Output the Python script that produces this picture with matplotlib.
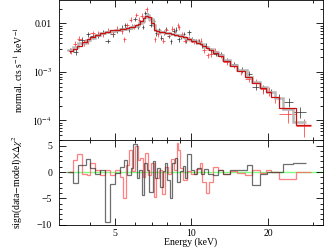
import numpy as np
import matplotlib
matplotlib.use("Agg")
import matplotlib.pyplot as plt
from matplotlib.ticker import FixedLocator, FixedFormatter, LogLocator, NullFormatter, MultipleLocator

plt.rcParams["font.family"] = ["Liberation Serif", "DejaVu Serif"]
plt.rcParams["mathtext.fontset"] = "stix"
plt.rcParams["font.size"] = 7

# dataset 1 (black): bin edges in keV, flux, model, relative error, residual
black_edges = [3.25, 3.41, 3.59, 3.85, 3.99, 4.17, 4.37, 4.58, 4.78, 5.00, 5.23, 5.42, 5.56, 5.76,
               5.91, 6.08, 6.23, 6.37, 6.50, 6.66, 6.82, 7.03, 7.18, 7.34, 7.52, 7.70, 7.87, 8.03,
               8.23, 8.40, 8.61, 8.80, 9.01, 9.23, 9.43, 9.63, 9.93, 10.23, 10.54, 10.87, 11.2,
               11.65, 12.2, 12.75, 13.3, 14.2, 15.1, 16.5, 17.25, 18.6, 19.8, 21.3, 23.0, 25.2, 28.2]
black_flux = [2.8e-3, 2.6e-3, 4.6e-3, 6.0e-3, 5.4e-3, 5.6e-3, 6.5e-3, 4.3e-3, 6.0e-3, 7.3e-3,
              8.2e-3, 9.3e-3, 7.6e-3, 8.8e-3, 1.25e-2, 8.5e-3, 1.05e-2, 8.4e-3, 1.65e-2, 1.50e-2,
              9.5e-3, 1.12e-2, 6.4e-3, 7.3e-3, 5.1e-3, 6.6e-3, 7.6e-3, 5.6e-3, 4.3e-3, 7.1e-3,
              7.5e-3, 4.8e-3, 5.5e-3, 6.0e-3, 4.5e-3, 6.6e-3, 4.8e-3, 4.2e-3, 4.2e-3, 3.6e-3,
              3.5e-3, 2.85e-3, 2.4e-3, 2.3e-3, 1.75e-3, 1.45e-3, 1.12e-3, 9.2e-4, 5.0e-4, 4.6e-4,
              3.8e-4, 2.9e-4, 2.4e-4, 1.5e-4]
black_model = [2.8e-3, 3.3e-3, 3.9e-3, 4.6e-3, 5.1e-3, 5.7e-3, 6.3e-3, 6.7e-3, 7.1e-3, 7.4e-3,
               7.6e-3, 7.8e-3, 8.0e-3, 8.3e-3, 8.7e-3, 9.3e-3, 1.02e-2, 1.15e-2, 1.38e-2, 1.48e-2,
               1.25e-2, 9.2e-3, 7.2e-3, 6.9e-3, 6.7e-3, 6.6e-3, 6.5e-3, 6.3e-3, 6.2e-3, 6.0e-3,
               5.9e-3, 5.7e-3, 5.5e-3, 5.3e-3, 5.1e-3, 4.9e-3, 4.6e-3, 4.3e-3, 4.0e-3, 3.7e-3,
               3.35e-3, 2.95e-3, 2.55e-3, 2.2e-3, 1.8e-3, 1.4e-3, 1.08e-3, 8.0e-4, 6.3e-4, 4.8e-4,
               3.8e-4, 2.9e-4, 1.7e-4, 9.5e-5]
black_rel = [0.12, 0.14, 0.12, 0.13, 0.12, 0.12, 0.12, 0.09, 0.11, 0.11,
             0.11, 0.12, 0.11, 0.12, 0.10, 0.11, 0.11, 0.10, 0.10, 0.10,
             0.10, 0.11, 0.12, 0.12, 0.12, 0.12, 0.12, 0.12, 0.12, 0.12,
             0.12, 0.12, 0.12, 0.13, 0.13, 0.12, 0.12, 0.12, 0.12, 0.12,
             0.12, 0.12, 0.12, 0.13, 0.12, 0.13, 0.13, 0.14, 0.15, 0.17,
             0.18, 0.20, 0.22, 0.25]
black_resid = [0.0, -2.0, 1.3, 2.4, 0.7, -0.3, 0.4, -9.6, -2.2, -0.1,
               1.0, 2.3, -0.6, 0.7, 5.4, -1.2, 0.4, -4.4, 1.7, 0.3,
               -3.8, 2.1, -1.2, 0.7, -2.8, 0.1, 1.8, -1.5, -4.9, 1.7,
               2.6, -1.9, 0.1, 1.2, -1.2, 3.4, 0.4, -0.3, 0.7, -0.3,
               0.5, -0.3, -0.6, 0.4, -0.3, 0.4, 0.3, 1.3, -2.5, -0.3,
               0.0, 0.0, 1.5, 1.7]

# dataset 2 (red)
red_edges = [3.30, 3.42, 3.54, 3.70, 3.87, 3.99, 4.17, 4.37, 4.58, 4.78, 5.00, 5.23, 5.38, 5.50,
             5.70, 5.85, 6.00, 6.15, 6.28, 6.45, 6.58, 6.75, 6.92, 7.10, 7.26, 7.45, 7.65, 7.85,
             8.05, 8.28, 8.50, 8.75, 8.88, 9.05, 9.30, 9.60, 10.0, 10.45, 10.8, 11.05, 11.4,
             11.75, 12.1, 12.75, 13.3, 14.2, 15.1, 16.3, 17.3, 18.6, 19.6, 20.6, 22.2, 25.8, 29.6]
red_flux = [2.7e-3, 3.8e-3, 4.9e-3, 4.0e-3, 4.4e-3, 6.3e-3, 6.2e-3, 6.0e-3, 7.1e-3, 6.7e-3,
            7.8e-3, 7.0e-3, 4.8e-3, 9.2e-3, 1.2e-2, 8.8e-3, 1.5e-2, 1.2e-2, 1.45e-2, 1.15e-2,
            1.95e-2, 1.28e-2, 1.2e-2, 4.8e-3, 6.1e-3, 7.0e-3, 4.4e-3, 7.3e-3, 6.1e-3, 7.8e-3,
            6.2e-3, 9.2e-3, 8.4e-3, 5.9e-3, 4.4e-3, 4.9e-3, 4.2e-3, 4.2e-3, 4.4e-3, 2.8e-3,
            2.2e-3, 2.3e-3, 2.75e-3, 2.2e-3, 1.62e-3, 1.37e-3, 1.03e-3, 7.2e-4, 6.1e-4, 4.4e-4,
            4.1e-4, 3.0e-4, 1.37e-4, 7.7e-5]
red_model = [2.7e-3, 3.0e-3, 3.5e-3, 4.1e-3, 4.7e-3, 5.2e-3, 5.9e-3, 6.4e-3, 6.8e-3, 7.2e-3,
             7.5e-3, 7.7e-3, 7.8e-3, 8.0e-3, 8.3e-3, 8.6e-3, 9.1e-3, 9.8e-3, 1.1e-2, 1.3e-2,
             1.45e-2, 1.35e-2, 1.0e-2, 7.5e-3, 6.9e-3, 6.7e-3, 6.6e-3, 6.5e-3, 6.3e-3, 6.1e-3,
             5.9e-3, 5.7e-3, 5.6e-3, 5.4e-3, 5.15e-3, 4.8e-3, 4.35e-3, 3.95e-3, 3.7e-3, 3.4e-3,
             3.1e-3, 2.85e-3, 2.45e-3, 2.1e-3, 1.7e-3, 1.35e-3, 1.05e-3, 7.8e-4, 5.9e-4, 4.6e-4,
             3.8e-4, 3.0e-4, 1.8e-4, 8.0e-5]
red_rel = [0.13, 0.14, 0.13, 0.13, 0.13, 0.12, 0.12, 0.12, 0.12, 0.12,
           0.12, 0.12, 0.12, 0.12, 0.11, 0.11, 0.11, 0.11, 0.11, 0.11,
           0.11, 0.11, 0.11, 0.12, 0.12, 0.12, 0.12, 0.12, 0.12, 0.12,
           0.12, 0.12, 0.13, 0.12, 0.12, 0.12, 0.12, 0.12, 0.13, 0.13,
           0.13, 0.13, 0.12, 0.12, 0.13, 0.13, 0.14, 0.15, 0.17, 0.19,
           0.21, 0.22, 0.34, 0.40]
red_resid = [0.0, 2.3, 3.5, -0.3, -0.6, 1.8, 0.4, -0.6, 0.4, -0.6,
             0.3, -0.9, -4.9, 1.3, 4.1, 0.2, 5.0, 2.3, 2.6, -0.9,
             3.6, -0.6, 1.7, -4.7, -1.2, 0.4, -4.1, 1.0, -0.3, 2.4,
             0.4, 5.6, 4.2, 0.7, -1.5, 0.1, -0.3, 0.5, 1.7, -1.9,
             -4.0, -1.9, 1.0, 0.4, -0.4, 0.1, -0.1, -0.6, 0.3, -0.2,
             0.4, 0.0, -1.3, 0.0]

xticks = [5, 10, 20]
top_yticks = [1e-4, 1e-3, 1e-2]
top_ylabels = [r"$10^{-4}$", r"$10^{-3}$", "0.01"]
bot_yticks = [-10, -5, 0, 5]

fig = plt.figure(figsize=(3.25, 2.49), dpi=100)
ax1 = fig.add_axes([0.1815, 0.438, 0.812, 0.56])
ax2 = fig.add_axes([0.1815, 0.096, 0.812, 0.342])


def centers(edges):
    e = np.array(edges)
    return (e[:-1] + e[1:]) / 2, (e[1:] - e[:-1]) / 2


# spectra
for edges, flux, model, rel, dcol, mcol, mlw in [
        (black_edges, black_flux, black_model, black_rel, "#303030", "#b8b8b8", 1.8),
        (red_edges, red_flux, red_model, red_rel, "#ff3030", "#c81010", 0.9)]:
    xc, xw = centers(edges)
    f = np.array(flux)
    ax1.errorbar(xc, f, xerr=xw, yerr=f * np.array(rel), fmt="none",
                 ecolor=dcol, elinewidth=0.7, alpha=0.75, capsize=0, zorder=2)
    ax1.stairs(model, edges, baseline=None, color=mcol, lw=mlw, zorder=3)

# residuals
ax2.hlines(0, black_edges[0], 40, color="#80ff80", lw=1.0, zorder=1)
ax2.stairs(black_resid, black_edges, baseline=None, color="#303030", lw=0.9, alpha=0.7, zorder=3)
ax2.stairs(red_resid, red_edges, baseline=None, color="#ff6060", lw=0.9, alpha=0.8, zorder=2)

for ax in (ax1, ax2):
    ax.set_xscale("log")
    ax.set_xlim(3.01, 32.9)
    ax.xaxis.set_major_locator(FixedLocator(xticks))
    ax.xaxis.set_minor_locator(FixedLocator([3, 4, 6, 7, 8, 9, 30]))
    ax.xaxis.set_minor_formatter(NullFormatter())
    ax.tick_params(which="both", direction="in", top=True, right=True, width=0.6, colors="black")
    ax.tick_params(which="major", length=5, pad=5)
    ax.tick_params(which="minor", length=2.5)
    for s in ax.spines.values():
        s.set_linewidth(0.6)

ax1.set_yscale("log")
ax1.set_ylim(3.96e-5, 0.0298)
ax1.yaxis.set_major_locator(FixedLocator(top_yticks))
ax1.yaxis.set_major_formatter(FixedFormatter(top_ylabels))
ax1.yaxis.set_minor_locator(LogLocator(base=10, subs=np.arange(2, 10)))
ax1.yaxis.set_minor_formatter(NullFormatter())
ax1.tick_params(labelbottom=False)
ax1.set_ylabel(r"normal. cts s$^{-1}$ keV$^{-1}$")

ax2.set_xlim(3.01, 32.9)
ax2.set_ylim(-10.1, 6.1)
ax2.yaxis.set_major_locator(FixedLocator(bot_yticks))
ax2.yaxis.set_minor_locator(MultipleLocator(1))
ax2.xaxis.set_major_formatter(FixedFormatter([str(t) for t in xticks]))
ax2.tick_params(axis="x", which="major", pad=2.5)
ax2.set_xlabel("Energy (keV)", labelpad=0)
ax2.set_ylabel(r"sign(data$-$model)$\times\Delta\chi^2$")

ax1.yaxis.set_label_coords(-0.13, 0.5)
ax2.yaxis.set_label_coords(-0.13, 0.5)

fig.savefig("out.png", dpi=100)
